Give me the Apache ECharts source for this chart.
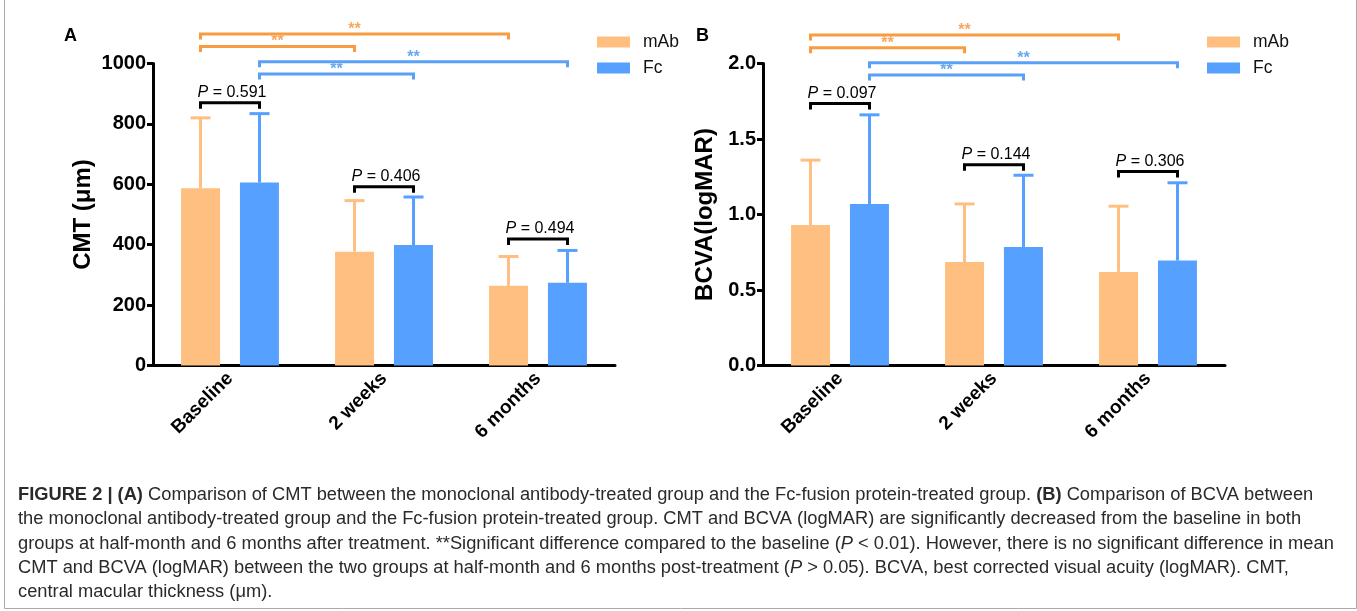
<!DOCTYPE html>
<html><head><meta charset="utf-8">
<script src="https://cdn.jsdelivr.net/npm/echarts@6/dist/echarts.min.js"></script>
<style>html,body{margin:0;padding:0;background:#fff}#c{width:1357px;height:611px}</style>
</head><body><div id="c"></div>
<script>
// ---------------- data ----------------
const categories = ['Baseline', '2 weeks', '6 months'];
const seriesNames = ['mAb', 'Fc'];
// Panel A: CMT (µm), mean and SD
const cmtMab = [587, 377, 264];
const cmtMabSD = [233, 169, 97];
const cmtFc = [606, 399, 274];
const cmtFcSD = [228, 159, 107];
// Panel B: BCVA (logMAR), mean and SD
const bcvaMab = [0.93, 0.685, 0.62];
const bcvaMabSD = [0.43, 0.385, 0.435];
const bcvaFc = [1.07, 0.785, 0.695];
const bcvaFcSD = [0.59, 0.475, 0.515];
// y-axis ticks
const cmtTicks = [0, 200, 400, 600, 800, 1000];
const bcvaTicks = [0, 0.5, 1.0, 1.5, 2.0];
// significance brackets vs baseline: [fromCategory, toCategory, group(0=mAb,1=Fc), level]
const cmtSig = [[0, 2, 0, 1098], [0, 1, 0, 1056], [0, 2, 1, 1006], [0, 1, 1, 965]];
const bcvaSig = [[0, 2, 0, 2.188], [0, 1, 0, 2.104], [0, 2, 1, 2.005], [0, 1, 1, 1.924]];
const sigLabel = '**';
// between-group P values: [category, level]
const cmtPLevels = [[0, 870], [1, 592], [2, 419]];
const cmtPValues = ['0.591', '0.406', '0.494'];
const bcvaPLevels = [[0, 1.735], [1, 1.330], [2, 1.284]];
const bcvaPValues = ['0.097', '0.144', '0.306'];
const captionLines = [
  '{b|FIGURE 2 | (A)} Comparison of CMT between the monoclonal antibody-treated group and the Fc-fusion protein-treated group. {b|(B)} Comparison of BCVA between',
  'the monoclonal antibody-treated group and the Fc-fusion protein-treated group. CMT and BCVA (logMAR) are significantly decreased from the baseline in both',
  'groups at half-month and 6 months after treatment. **Significant difference compared to the baseline ({i|P} < 0.01). However, there is no significant difference in mean',
  'CMT and BCVA (logMAR) between the two groups at half-month and 6 months post-treatment ({i|P} > 0.05). BCVA, best corrected visual acuity (logMAR). CMT,',
  'central macular thickness (\u03bcm).'
];

// ---------------- style ----------------
const FONT = "'Liberation Sans', Arial, sans-serif";
const ORANGE = '#FFBF80', BLUE = '#56A0FF';
const ORANGE_LINE = '#F89C42', BLUE_LINE = '#5AA0F6';
const ORANGE_STAR = '#F6A860', BLUE_STAR = '#6AA8F0';
const BAR_W = 39, BAR_OFF = 29.5;
const CAP_FS = 18.3;

const chart = echarts.init(document.getElementById('c'), null, {renderer: 'canvas'});

function errRender(offset, color) {
  return function (params, api) {
    const cat = api.value(0), mean = api.value(1), sd = api.value(2);
    const b = api.coord([cat, mean]);
    const t = api.coord([cat, mean + sd]);
    const x = b[0] + offset;
    return {type: 'group', children: [
      {type: 'line', shape: {x1: x, y1: b[1], x2: x, y2: t[1]}, style: {stroke: color, lineWidth: 3}},
      {type: 'line', shape: {x1: x - 10, y1: t[1], x2: x + 10, y2: t[1]}, style: {stroke: color, lineWidth: 3}}
    ]};
  };
}
function sigRender(params, api) {
  const c1 = api.value(0), c2 = api.value(1), g = api.value(2), lvl = api.value(3);
  const off = g === 0 ? -BAR_OFF : BAR_OFF;
  const p1 = api.coord([c1, lvl]), p2 = api.coord([c2, lvl]);
  const x1 = p1[0] + off, x2 = p2[0] + off, y = p1[1];
  return {type: 'group', children: [
    {type: 'polyline', shape: {points: [[x1, y + 5.5], [x1, y], [x2, y], [x2, y + 5.5]]},
      style: {stroke: g === 0 ? ORANGE_LINE : BLUE_LINE, lineWidth: 3, fill: null}},
    {type: 'text', x: (x1 + x2) / 2, y: y + 3.5,
      style: {text: sigLabel, fill: g === 0 ? ORANGE_STAR : BLUE_STAR, fontSize: 16, fontWeight: 'bold', fontFamily: FONT, align: 'center', verticalAlign: 'bottom'}}
  ]};
}
function pRender(labels) {
  return function (params, api) {
    const c = api.value(0), lvl = api.value(1);
    const p = api.coord([c, lvl]);
    const x1 = p[0] - BAR_OFF, x2 = p[0] + BAR_OFF, y = p[1];
    return {type: 'group', children: [
      {type: 'polyline', shape: {points: [[x1, y + 6], [x1, y], [x2, y], [x2, y + 6]]},
        style: {stroke: '#000', lineWidth: 3, fill: null}},
      {type: 'text', x: p[0] + 2, y: y - 10,
        style: {text: '{i|P} = ' + labels[params.dataIndex], fill: '#000', fontSize: 16, fontFamily: FONT,
          align: 'center', verticalAlign: 'middle',
          rich: {i: {fontStyle: 'italic', fontSize: 16, fontFamily: FONT, fill: '#000'}}}}
    ]};
  };
}
function zip(a, b) { return a.map((v, i) => [i, v, b[i]]); }

function gridAxes(idx, ticks, name, fmt) {
  const x = {
    gridIndex: idx, type: 'category', data: categories,
    axisLine: {lineStyle: {color: '#000', width: 3}},
    axisTick: {alignWithLabel: true, length: 6, lineStyle: {color: '#000', width: 3}},
    axisLabel: {rotate: 45, interval: 0, margin: 10, color: '#000', fontWeight: 'bold', fontSize: 19, fontFamily: FONT}
  };
  const y = {
    gridIndex: idx, type: 'value', min: ticks[0], max: ticks[ticks.length - 1], interval: ticks[1] - ticks[0],
    name: name, nameLocation: 'middle', nameRotate: 90, nameGap: idx === 0 ? 58 : 46,
    nameTextStyle: {color: '#000', fontWeight: 'bold', fontSize: 24, fontFamily: FONT},
    axisLine: {show: true, lineStyle: {color: '#000', width: 3}},
    axisTick: {show: true, length: 6, lineStyle: {color: '#000', width: 3}},
    splitLine: {show: false},
    axisLabel: {margin: 7, color: '#000', fontWeight: 'bold', fontSize: 20, fontFamily: FONT, formatter: fmt}
  };
  return [x, y];
}
const axA = gridAxes(0, cmtTicks, 'CMT (\u03bcm)', v => String(v));
const axB = gridAxes(1, bcvaTicks, 'BCVA(logMAR)', v => v.toFixed(1));

function panelSeries(idx, mab, mabSD, fc, fcSD, sig, pLv, pVals) {
  return [
    {name: seriesNames[0], type: 'bar', xAxisIndex: idx, yAxisIndex: idx, data: mab, barWidth: BAR_W, barGap: '51%', itemStyle: {color: ORANGE}, silent: true},
    {name: seriesNames[1], type: 'bar', xAxisIndex: idx, yAxisIndex: idx, data: fc, barWidth: BAR_W, barGap: '51%', itemStyle: {color: BLUE}, silent: true},
    {type: 'custom', xAxisIndex: idx, yAxisIndex: idx, data: zip(mab, mabSD), renderItem: errRender(-BAR_OFF, ORANGE), encode: {x: 0, y: 1}, clip: false, silent: true, z: 3},
    {type: 'custom', xAxisIndex: idx, yAxisIndex: idx, data: zip(fc, fcSD), renderItem: errRender(BAR_OFF, BLUE), encode: {x: 0, y: 1}, clip: false, silent: true, z: 3},
    {type: 'custom', xAxisIndex: idx, yAxisIndex: idx, data: sig, renderItem: sigRender, encode: {x: 0, y: 3}, clip: false, silent: true, z: 4},
    {type: 'custom', xAxisIndex: idx, yAxisIndex: idx, data: pLv, renderItem: pRender(pVals), encode: {x: 0, y: 1}, clip: false, silent: true, z: 4}
  ];
}

function legendAt(left) {
  return {data: seriesNames, orient: 'vertical', left: left, top: 28, icon: 'rect', itemWidth: 33, itemHeight: 11, itemGap: 8,
    selectedMode: false, textStyle: {fontSize: 17.5, color: '#111', fontFamily: FONT, lineHeight: 17, padding: [0, 0, 0, 8]}};
}

const caption = captionLines.map((t, i) => ({
  type: 'text', left: 18, top: 486 + i * 24.3,
  style: {text: t, fontSize: CAP_FS, fontFamily: FONT, fill: '#2a2a2a',
    rich: {b: {fontWeight: 'bold', fontSize: CAP_FS, fontFamily: FONT, fill: '#2a2a2a'},
           i: {fontStyle: 'italic', fontSize: CAP_FS, fontFamily: FONT, fill: '#2a2a2a'}}}
}));

chart.setOption({
  backgroundColor: '#fff',
  animation: false,
  grid: [
    {left: 153, top: 63.5, width: 462, height: 302},
    {left: 763, top: 63.5, width: 462, height: 302}
  ],
  xAxis: [axA[0], axB[0]],
  yAxis: [axA[1], axB[1]],
  legend: [legendAt(592), legendAt(1202)],
  series: [].concat(
    panelSeries(0, cmtMab, cmtMabSD, cmtFc, cmtFcSD, cmtSig, cmtPLevels, cmtPValues),
    panelSeries(1, bcvaMab, bcvaMabSD, bcvaFc, bcvaFcSD, bcvaSig, bcvaPLevels, bcvaPValues)
  ),
  graphic: [
    {type: 'text', left: 64, top: 27, style: {text: 'A', fontSize: 18, fontWeight: 'bold', fontFamily: FONT, fill: '#000'}},
    {type: 'text', left: 696, top: 27, style: {text: 'B', fontSize: 18, fontWeight: 'bold', fontFamily: FONT, fill: '#000'}},
    {type: 'rect', left: 2, top: -4, shape: {width: 1352, height: 610}, style: {fill: null, stroke: '#aaa', lineWidth: 1}, silent: true}
  ].concat(caption)
});
</script>
</body></html>
